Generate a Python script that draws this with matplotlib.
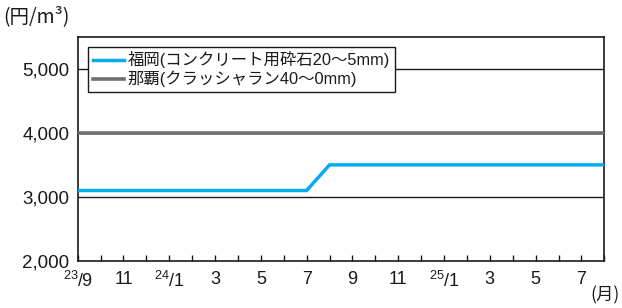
import matplotlib
matplotlib.use("Agg")
import matplotlib.pyplot as plt
from matplotlib.ticker import FixedLocator, FuncFormatter

plt.rcParams['font.family'] = ['Liberation Sans', 'Noto Sans CJK JP', 'DejaVu Sans']
plt.rcParams['mathtext.fontset'] = 'custom'
plt.rcParams['mathtext.rm'] = 'Liberation Sans'
plt.rcParams['mathtext.it'] = 'Liberation Sans'
plt.rcParams['mathtext.default'] = 'regular'

# ---- data ----
months = list(range(24))  # 23/9 ... 25/8
fukuoka = [3100] * 11 + [3500] * 13
naha = [4000] * 24
tick_labels = [r'$^{23}$/9', '11', r'$^{24}$/1', '3', '5', '7', '9', '11',
               r'$^{25}$/1', '3', '5', '7']
label_fukuoka = '福岡(コンクリート用砕石20～5mm)'
label_naha = '那覇(クラッシャラン40～0mm)'
yticks = [2000, 3000, 4000, 5000]

fig = plt.figure(figsize=(6.22, 3.08), dpi=100)
ax = fig.add_axes([77.7/622, 1-261/308, (604.3-77.7)/622, (261-36.7)/308])

ax.set_xlim(0, 23)
ax.set_ylim(2000, 5500)

for y in yticks[1:]:
    ax.axhline(y, color='#1a1a1a', lw=1.0, zorder=1)

l1, = ax.plot(months, fukuoka, color='#00AEEF', lw=2.5, zorder=3,
              solid_joinstyle='miter', label=label_fukuoka)
l2, = ax.plot(months, naha, color='#6E6E6E', lw=2.6, zorder=3, label=label_naha)

ax.set_yticks(yticks)
ax.yaxis.set_major_formatter(FuncFormatter(lambda v, p: f'{int(v):,}'))
ax.tick_params(axis='y', length=0, pad=6, labelsize=13.5, colors='#1a1a1a')

ax.xaxis.set_major_locator(FixedLocator(months[::2]))
ax.xaxis.set_minor_locator(FixedLocator(months[1::2]))
ax.set_xticklabels(tick_labels)
ax.tick_params(axis='x', which='both', direction='in', length=4, width=1.0,
               color='#1a1a1a', labelsize=13, pad=7, labelcolor='#1a1a1a')

for s in ax.spines.values():
    s.set_color('#1a1a1a')
    s.set_linewidth(1.2)

leg = ax.legend(handles=[l1, l2], loc='upper left',
                bbox_to_anchor=(88.3/622, 1-46.5/308), bbox_transform=fig.transFigure,
                fontsize=11.8, frameon=True, fancybox=False, framealpha=1,
                edgecolor='#1a1a1a', handlelength=1.85, handletextpad=0.25,
                borderpad=0.3, labelspacing=0.15, borderaxespad=0)
leg.get_frame().set_linewidth(1.0)
for t in leg.get_texts():
    t.set_color('#1a1a1a')

fig.text(3/622, 1-17/308, '(円/m³)', fontsize=14, va='center', ha='left',
         color='#1a1a1a', family=['Noto Sans CJK JP'])
fig.text(620/622, 1-295/308, '(月)', fontsize=12.5, va='center', ha='right',
         color='#1a1a1a', family=['Noto Sans CJK JP'])

fig.savefig('out.png', dpi=100)
